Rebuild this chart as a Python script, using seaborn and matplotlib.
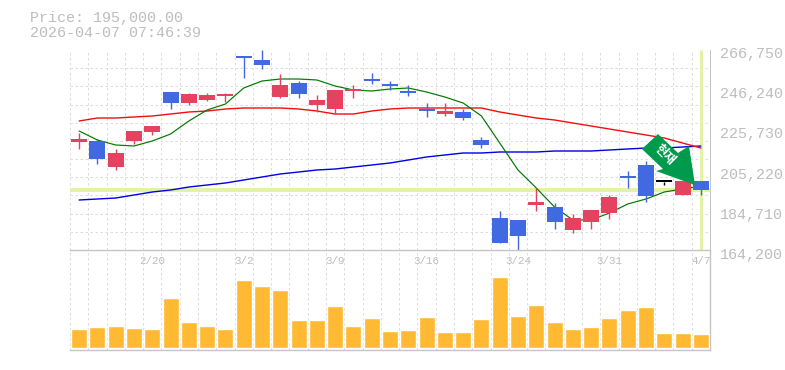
import numpy as np
import pandas as pd
import matplotlib
matplotlib.use("Agg")
import matplotlib.pyplot as plt
from matplotlib.patches import Polygon
from matplotlib.transforms import ScaledTranslation
import seaborn as sns

sns.set_theme(style="white")
plt.rcParams['font.family'] = ['Liberation Mono', 'DejaVu Sans Mono']

# candles
opens = [219580, 220090, 206760, 220090, 224700, 245210, 239570, 241110, 243160, 263670, 261620, 242650,
         249830, 238550, 236500, 245730, 251880, 248800, 245210, 235990, 233930, 234960, 220600, 180610,
         179580, 187270, 186250, 174460, 178560, 183170, 202140, 207780, 199070, 192400, 199580]
closes = [221120, 210860, 213940, 225220, 227780, 239570, 244190, 243680, 243680, 262650, 259060, 248800,
          244190, 241110, 246240, 246750, 250850, 248290, 244700, 235470, 235470, 231880, 218040, 167790,
          171380, 188810, 178560, 180610, 184710, 191380, 201120, 191890, 199070, 199580, 195000]
highs = [224190, 221120, 215990, 225220, 227780, 245210, 244700, 244700, 244700, 263670, 266750, 254440,
         250850, 243680, 246240, 248800, 254960, 250850, 248800, 239570, 239570, 236500, 222140, 184200,
         179580, 195990, 188300, 182660, 184710, 192400, 204710, 209840, 199070, 199580, 199580]
lows = [215990, 208300, 205220, 218550, 223170, 236500, 238550, 240600, 240090, 252390, 257010, 242140,
        242140, 234960, 233930, 242140, 249320, 246240, 243160, 232400, 232910, 230860, 216500, 167790,
        164200, 184200, 174970, 172920, 174970, 180100, 195990, 188810, 197530, 192400, 192400]

# moving averages
ma_green = [225220, 220600, 218040, 217530, 220090, 223680, 230350, 235990, 239060, 247270, 250850, 251880,
            251880, 251370, 248290, 246240, 245730, 246750, 247270, 245210, 242650, 239570, 232910, 219060,
            205220, 195990, 186250, 179580, 179580, 183170, 187790, 190350, 193940, 195480, 197020]
ma_red = [230350, 231880, 231880, 232400, 232910, 233930, 234960, 235470, 236500, 237010, 237010, 237010,
          236500, 235470, 233930, 233930, 235470, 236500, 237010, 237010, 237010, 237010, 237010, 234960,
          233420, 231880, 230860, 229320, 227780, 226240, 224700, 223170, 221630, 219060, 216500]
ma_blue = [189840, 190350, 190860, 192400, 193940, 194960, 196500, 197530, 198550, 200090, 201630, 203170,
           204190, 205220, 205730, 206760, 207780, 208810, 210350, 211890, 212910, 213940, 213940, 214450,
           214450, 214450, 214960, 214960, 214960, 215480, 215990, 216500, 216500, 217010, 217530]

# volume (thousands)
volume = [19, 21, 22, 20, 19, 50, 26, 22, 19, 68, 62, 58, 28, 28, 42, 22, 30, 17,
          18, 31, 16, 16, 29, 71, 32, 43, 26, 19, 21, 30, 38, 41, 15, 15, 14]

price_ticks = [164200, 184710, 205220, 225730, 246240, 266750]
date_slots = [4, 9, 14, 19, 24, 29, 34]
date_labels = ['2/20', '3/2', '3/9', '3/16', '3/24', '3/31', '4/7']
current_price = 195000

RED = '#E5425F'
BLUE = '#4169E1'
GRID = '#DDDDDD'
EDGE = '#C4C4C4'
TEXT = '#BDBDBD'
HILITE = '#E3F2A6'
W, H = 785, 370
PX = 0.72

df = pd.DataFrame({'slot': np.arange(len(opens)), 'open': opens, 'close': closes, 'high': highs, 'low': lows,
                   'ma_green': ma_green, 'ma_red': ma_red, 'ma_blue': ma_blue, 'volume': volume})

fig = plt.figure(figsize=(W / 100, H / 100), dpi=100, facecolor='white')
ax = fig.add_axes([70 / W, 1 - 250 / H, 640 / W, 200 / H])
ax_vol = fig.add_axes([70 / W, 1 - 350 / H, 640 / W, 100 / H])

# price panel
for col, color, lw in [('ma_blue', '#0000E6', 1.4), ('ma_red', '#F01010', 1.4), ('ma_green', '#007A00', 1.2)]:
    sns.lineplot(data=df, x='slot', y=col, color=color, lw=lw * PX, ax=ax, zorder=3, legend=False)

ax.axhline(current_price, color=HILITE, lw=4 * PX, zorder=2)
ax.axvline(df.slot.iloc[-1], color=HILITE, lw=3 * PX, zorder=2, ymax=0.995)

for r in df.itertuples():
    if r.close > r.open:
        c = RED
    elif r.close < r.open:
        c = BLUE
    else:
        c = 'black'
    ax.vlines(r.slot, r.low, r.high, color=c, lw=1.4 * PX, zorder=4)
    body = max(abs(r.close - r.open), 800)
    ax.bar(r.slot, body, bottom=min(r.open, r.close), width=16 / 18.286, color=c, lw=0, zorder=4)

ax.set_xlim(-0.5, 34.5)
ax.set_ylim(price_ticks[0], price_ticks[-1])
ax.set_xlabel('')
ax.set_ylabel('')
ax.set_xticks(np.arange(-0.5, 35))
ax.set_xticklabels([])
ax.set_yticks(price_ticks)
ax.set_yticks(np.linspace(price_ticks[0], price_ticks[-1], 12), minor=True)
ax.set_yticklabels([f'{p:,}' for p in price_ticks], fontsize=10.8, color=TEXT)
ax.yaxis.tick_right()
ax.tick_params(axis='both', which='both', length=0)
ax.tick_params(axis='y', which='major', pad=7)
offset = ScaledTranslation(0, -3 / 100, fig.dpi_scale_trans)
for lab in ax.get_yticklabels():
    lab.set_transform(lab.get_transform() + offset)
ax.grid(True, axis='x', color=GRID, ls=(0, (2.5, 2.5)), lw=1 * PX)
ax.grid(True, axis='y', which='minor', color=GRID, ls=(0, (2.5, 2.5)), lw=1 * PX)
ax.grid(False, axis='y', which='major')
ax.set_axisbelow(True)
for s in ['left', 'top', 'bottom']:
    ax.spines[s].set_visible(False)
ax.spines['right'].set_color(EDGE)
ax.spines['right'].set_linewidth(1 * PX)

# volume panel
sns.barplot(data=df, x='slot', y='volume', color='#FFB933', width=16 / 18.286, saturation=1, ax=ax_vol, zorder=3)
ax_vol.set_xlim(-0.5, 34.5)
ax_vol.set_ylim(-2, 98)
ax_vol.set_xlabel('')
ax_vol.set_ylabel('')
ax_vol.set_yticks([])
ax_vol.set_xticks(np.arange(-0.5, 35))
ax_vol.set_xticklabels([])
ax_vol.tick_params(length=0)
ax_vol.grid(True, axis='x', color=GRID, ls=(0, (2.5, 2.5)), lw=1 * PX)
ax_vol.set_axisbelow(True)
ax_vol.spines['left'].set_visible(False)
for s in ['top', 'bottom', 'right']:
    ax_vol.spines[s].set_color(EDGE)
    ax_vol.spines[s].set_linewidth(1.4 * PX)
for slot, lab in zip(date_slots, date_labels):
    ax_vol.text(slot, 87, lab, ha='center', va='center', fontsize=7.8, color=TEXT, zorder=2)

# header
fig.text(30 / W, 1 - 18 / H, 'Price: 195,000.00', fontsize=10.8, color=TEXT, va='center')
fig.text(30 / W, 1 - 33 / H, '2026-04-07 07:46:39', fontsize=10.8, color=TEXT, va='center')

# current price arrow
arrow = [(642, 149), (658, 134), (678, 153), (689, 146), (695, 185), (656, 171), (663, 169)]
fig.add_artist(Polygon([(x / W, 1 - y / H) for x, y in arrow], closed=True, transform=fig.transFigure,
                       facecolor='#009A4C', edgecolor='none', zorder=10))
fig.text(665 / W, 1 - 155 / H, '현재', rotation=-45, rotation_mode='anchor', ha='center', va='center',
         fontsize=9, color='white', fontweight='bold', family=['Noto Sans CJK KR', 'DejaVu Sans'], zorder=11)

fig.savefig('out.png', dpi=100)
